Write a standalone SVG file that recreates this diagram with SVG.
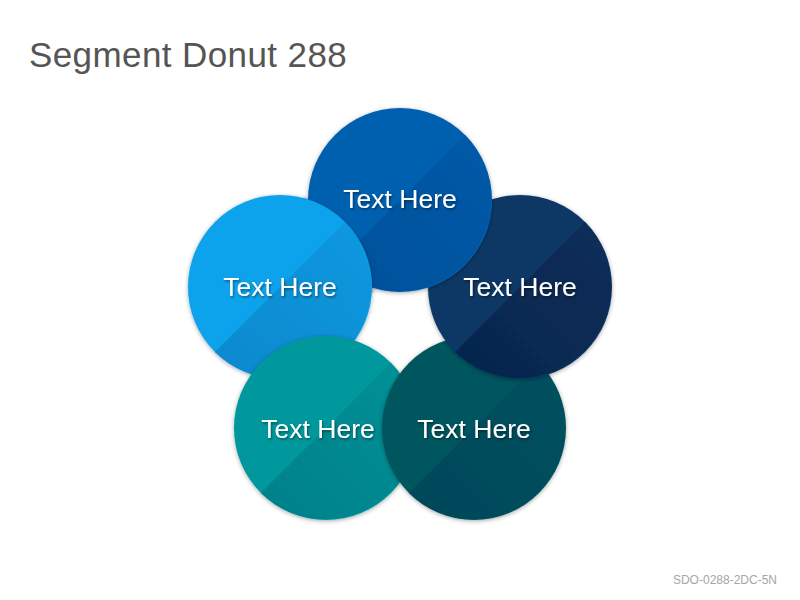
<svg xmlns="http://www.w3.org/2000/svg" xmlns:xlink="http://www.w3.org/1999/xlink" width="800" height="600" viewBox="0 0 800 600">
<style>
.title{font-family:"Liberation Sans",Arial,sans-serif;font-size:35px;fill:#555555;letter-spacing:0.4px}
.foot{font-family:"Liberation Sans",Arial,sans-serif;font-size:12px;fill:#a6a6a6;text-anchor:end}
.lbl{font-family:"Liberation Sans",Arial,sans-serif;font-size:26.5px;fill:#ffffff;text-anchor:middle;filter:url(#ts)}
</style>
<defs>
<filter id="sh" x="-20%" y="-20%" width="140%" height="140%">
<feDropShadow dx="0" dy="1" stdDeviation="2" flood-color="#000" flood-opacity="0.35"/>
</filter>
<filter id="ts" x="-10%" y="-30%" width="120%" height="160%">
<feDropShadow dx="1" dy="1.5" stdDeviation="1.2" flood-color="#000" flood-opacity="0.45"/>
</filter>
<linearGradient id="gT" x1="0" y1="1" x2="1" y2="0"><stop offset="0" stop-color="#054f9a"/><stop offset="1" stop-color="#055ba8"/></linearGradient>
<linearGradient id="gL" x1="0" y1="1" x2="1" y2="0"><stop offset="0" stop-color="#0888cd"/><stop offset="1" stop-color="#0999df"/></linearGradient>
<linearGradient id="gR" x1="0" y1="1" x2="1" y2="0"><stop offset="0" stop-color="#06264c"/><stop offset="1" stop-color="#082e5a"/></linearGradient>
<linearGradient id="gBL" x1="0" y1="1" x2="1" y2="0"><stop offset="0" stop-color="#02808b"/><stop offset="1" stop-color="#029197"/></linearGradient>
<linearGradient id="gBR" x1="0" y1="1" x2="1" y2="0"><stop offset="0" stop-color="#02475a"/><stop offset="1" stop-color="#02515f"/></linearGradient>
<path id="half" d="M -65.05 65.05 A 92 92 0 0 0 65.05 -65.05 Z"/>
<g id="shapeL" transform="translate(280 287)">
<circle r="92" fill="#09a3ec"/><use xlink:href="#half" fill="url(#gL)"/>
</g>
<clipPath id="clipT"><circle cx="400" cy="200" r="97"/></clipPath>
</defs>
<rect width="800" height="600" fill="#ffffff"/>
<text class="title" x="29" y="67">Segment Donut 288</text>
<text class="foot" x="777" y="584">SDO-0288-2DC-5N</text>
<g id="connectors"/>
<g id="node-left">
<use xlink:href="#shapeL" filter="url(#sh)"/>
<text class="lbl" x="280" y="296">Text Here</text>
</g>
<g id="node-bottom-left">
<g transform="translate(326 428)" filter="url(#sh)">
<circle r="92" fill="#03989c"/><use xlink:href="#half" fill="url(#gBL)"/>
</g>
<text class="lbl" x="318" y="438">Text Here</text>
</g>
<g id="node-bottom-right">
<g transform="translate(474 428)" filter="url(#sh)">
<circle r="92" fill="#02565f"/><use xlink:href="#half" fill="url(#gBR)"/>
</g>
<text class="lbl" x="474" y="438">Text Here</text>
</g>
<g id="node-right">
<g transform="translate(520 287)" filter="url(#sh)">
<circle r="92" fill="#0a3766"/><use xlink:href="#half" fill="url(#gR)"/>
</g>
<text class="lbl" x="520" y="296">Text Here</text>
</g>
<g id="node-top">
<g transform="translate(400 200)" filter="url(#sh)">
<circle r="92" fill="#0561b0"/><use xlink:href="#half" fill="url(#gT)"/>
</g>
<text class="lbl" x="400" y="208">Text Here</text>
</g>
<g id="node-left-overlap" clip-path="url(#clipT)">
<use xlink:href="#shapeL" filter="url(#sh)"/>
<text class="lbl" x="280" y="296">Text Here</text>
</g>
</svg>
